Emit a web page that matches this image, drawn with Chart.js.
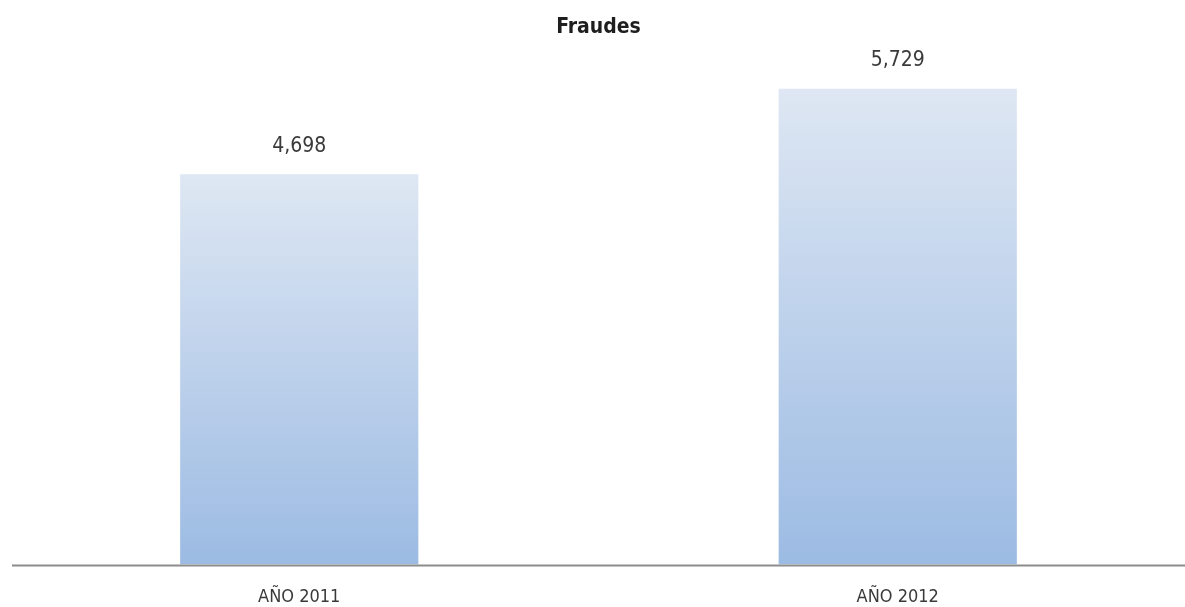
<!DOCTYPE html>
<html>
<head>
<meta charset="utf-8">
<script src="https://cdn.jsdelivr.net/npm/chart.js@4/dist/chart.umd.min.js"></script>
<style>
  html, body { margin: 0; padding: 0; background: #fff; overflow: hidden; height: 607px; }
  #wrap { width: 1197px; height: 630px; }
</style>
</head>
<body>
<div id="wrap"><canvas id="myChart"></canvas></div>
<script>
// datos del grafico
const categorias = ["AÑO 2011", "AÑO 2012"];
const fraudes = [4698, 5729];
const titulo = "Fraudes";

const fuente = "'Liberation Sans Narrow', 'DejaVu Sans Condensed', 'Liberation Sans', sans-serif";

// etiquetas de valor encima de cada barra
const etiquetasValor = {
    id: "etiquetasValor",
    afterDatasetsDraw(chart) {
        const ctx = chart.ctx;
        const meta = chart.getDatasetMeta(0);
        ctx.save();
        ctx.font = "21px " + fuente;
        ctx.fillStyle = "#3a3a3a";
        ctx.textAlign = "center";
        ctx.textBaseline = "middle";
        meta.data.forEach((bar, i) => {
            ctx.fillText(fraudes[i].toLocaleString("en-US"), bar.x, bar.y - 28);
        });
        ctx.restore();
    }
};

// linea del eje horizontal
const lineaEje = {
    id: "lineaEje",
    afterDatasetsDraw(chart) {
        const ctx = chart.ctx;
        const area = chart.chartArea;
        ctx.save();
        ctx.strokeStyle = "#8c8c8c";
        ctx.lineWidth = 2;
        ctx.beginPath();
        ctx.moveTo(area.left + 12, area.bottom + 1);
        ctx.lineTo(chart.width, area.bottom + 1);
        ctx.stroke();
        ctx.restore();
    }
};

const ctx = document.querySelector("#myChart").getContext("2d");

new Chart(ctx, {
    type: "bar",
    data: {
        labels: categorias,
        datasets: [{
            label: titulo,
            data: fraudes,
            backgroundColor: function(context) {
                const chart = context.chart;
                if (!chart.chartArea || !chart.scales.y) return "#bcd0ea";
                const y = chart.scales.y;
                const top = y.getPixelForValue(context.raw);
                const bottom = y.getPixelForValue(0);
                const g = chart.ctx.createLinearGradient(0, top, 0, bottom);
                g.addColorStop(0, "#dee7f3");
                g.addColorStop(1, "#9cbbe3");
                return g;
            },
            borderWidth: 0,
            barPercentage: 1,
            categoryPercentage: 0.398
        }]
    },
    options: {
        responsive: true,
        maintainAspectRatio: false,
        animation: false,
        layout: { padding: 0 },
        plugins: {
            legend: { display: false },
            tooltip: { enabled: false },
            title: {
                display: true,
                text: titulo,
                color: "#1e1e1e",
                font: { family: fuente, size: 21, weight: "bold", lineHeight: 1.2 },
                padding: { top: 15, bottom: 26 }
            }
        },
        scales: {
            x: {
                grid: { display: false, drawTicks: false },
                border: { display: false },
                ticks: {
                    color: "#3a3a3a",
                    padding: 22,
                    font: { family: fuente, size: 18, lineHeight: 1.2 }
                }
            },
            y: {
                display: false,
                beginAtZero: true,
                min: 0,
                max: 6000
            }
        }
    },
    plugins: [etiquetasValor, lineaEje]
});
</script>
</body>
</html>
